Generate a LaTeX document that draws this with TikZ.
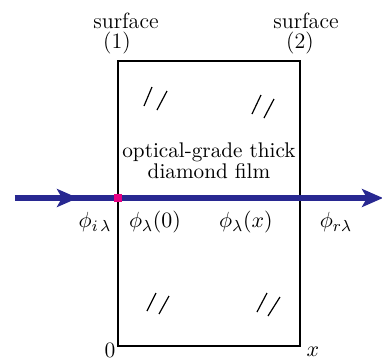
\documentclass[tikz,border=0pt]{standalone}
\usetikzlibrary{arrows.meta}
\definecolor{beamblue}{RGB}{40,40,145}
\definecolor{spot}{RGB}{230,0,130}
\begin{document}
\begin{tikzpicture}[x=0.5pt,y=-0.5pt,
  frame/.style={line width=0.8pt,black},
  beam/.style={line width=2.6pt,beamblue},
  tipb/.style={-{Stealth[length=10.5pt,width=9pt,inset=2.5pt]}},
  hatch/.style={line width=0.6pt,black},
  lbl/.style={font=\fontsize{11}{12}\selectfont,inner sep=0pt,align=center}]
\useasboundingbox (0,0) rectangle (382,359);
% film
\draw[frame] (118,61) rectangle (300,346);
% hatch marks
\draw[hatch] (144,106)--(152,87) (157,110)--(167,91);
\draw[hatch] (252,114)--(261,95) (264,118)--(274,99);
\draw[hatch] (147,311)--(156,293) (159,314)--(169,296);
\draw[hatch] (257,312)--(267,293) (268,316)--(280,297);
% beam
\coordinate (s) at (15,198);
\coordinate (m) at (78,198);
\coordinate (e) at (383,198);
\draw[beam,tipb] (s) -- (e);
\draw[beam,tipb] (s) -- (m);
\node[fill=spot,minimum size=3.6pt,inner sep=0pt] (p) at (118,198) {};
% texts
\node[lbl] (s1) at (126,21) {surface};
\node[lbl] (n1) at (117,43) {(1)};
\node[lbl] (s2) at (306,21) {surface};
\node[lbl] (n2) at (300,43) {(2)};
\node[lbl,font=\fontsize{10.6}{11.6}\selectfont] (film) at (209,161) {optical-grade thick\\[-1pt]diamond film};
\node[lbl] (li) at (95,222) {$\phi_{i\,\lambda}$};
\node[lbl] (l0) at (155,222) {$\phi_{\lambda}(0)$};
\node[lbl] (lx) at (246,222) {$\phi_{\lambda}(x)$};
\node[lbl] (lr) at (336,222) {$\phi_{r\lambda}$};
\node[lbl] (o) at (110,350) {0};
\node[lbl] (x) at (313,352) {$x$};
\end{tikzpicture}
\end{document}
